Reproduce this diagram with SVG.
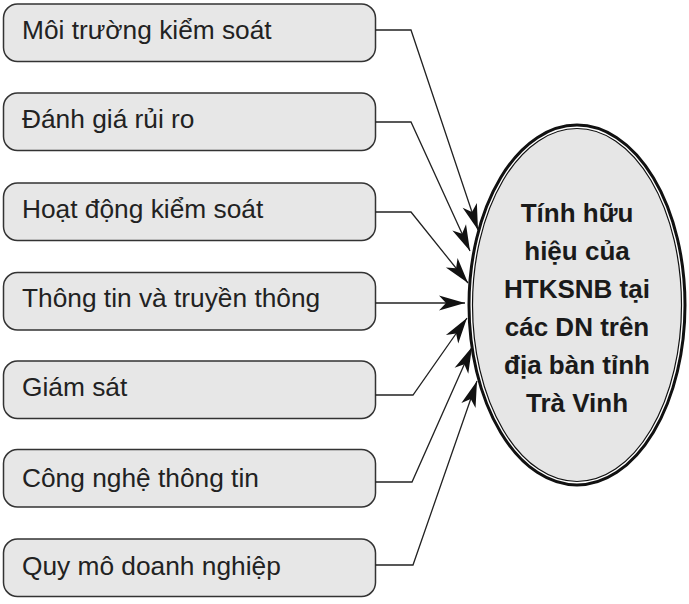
<svg xmlns="http://www.w3.org/2000/svg" width="689" height="604" viewBox="0 0 689 604">
<style>
.box{fill:#e7e7e7;stroke:#333;stroke-width:1.5}
.lbl{font-family:"Liberation Sans",Arial,sans-serif;font-size:26.3px;fill:#222}
.el{font-family:"Liberation Sans",Arial,sans-serif;font-size:26px;font-weight:bold;fill:#1a1a1a;text-anchor:middle}
.con{fill:none;stroke:#222;stroke-width:1.3;marker-end:url(#ah)}
</style>
<defs>
<marker id="ah" viewBox="-28 -9 29 18" refX="0" refY="0" markerWidth="29" markerHeight="18" markerUnits="userSpaceOnUse" orient="auto">
<path d="M0,0 L-26,-7.5 L-19,0 L-26,7.5 Z" fill="#111"/>
</marker>
</defs>
<rect width="689" height="604" fill="#fff"/>
<g id="n1"><rect class="box" x="3.5" y="4" width="372" height="57.5" rx="14"/><text class="lbl" x="22" y="38.5">Môi trường kiểm soát</text></g>
<g id="n2"><rect class="box" x="3.5" y="93" width="372" height="57.5" rx="14"/><text class="lbl" x="22" y="127.5">Đánh giá rủi ro</text></g>
<g id="n3"><rect class="box" x="3.5" y="183" width="372" height="57.5" rx="14"/><text class="lbl" x="22" y="217.5">Hoạt động kiểm soát</text></g>
<g id="n4"><rect class="box" x="3.5" y="272.5" width="372" height="57.5" rx="14"/><text class="lbl" x="22" y="307">Thông tin và truyền thông</text></g>
<g id="n5"><rect class="box" x="3.5" y="361" width="372" height="57.5" rx="14"/><text class="lbl" x="22" y="395.5">Giám sát</text></g>
<g id="n6"><rect class="box" x="3.5" y="449.5" width="372" height="57.5" rx="14"/><text class="lbl" x="22" y="486.5">Công nghệ thông tin</text></g>
<g id="n7"><rect class="box" x="3.5" y="539" width="372" height="57.5" rx="14"/><text class="lbl" x="22" y="575">Quy mô doanh nghiệp</text></g>
<g id="center">
<ellipse cx="577" cy="305" rx="108" ry="180" fill="#fff" stroke="#111" stroke-width="3"/>
<ellipse cx="577" cy="305" rx="104.5" ry="176.5" fill="#e6e6e6" stroke="#111" stroke-width="1.2"/>
<text class="el" x="577" y="222">Tính hữu</text>
<text class="el" x="577" y="260">hiệu của</text>
<text class="el" x="577" y="298">HTKSNB tại</text>
<text class="el" x="577" y="336">các DN trên</text>
<text class="el" x="577" y="374">địa bàn tỉnh</text>
<text class="el" x="577" y="412">Trà Vinh</text>
</g>
<g id="connectors">
<path class="con" d="M375.5,30 H411 L478,230"/>
<path class="con" d="M375.5,122 H411 L470,251"/>
<path class="con" d="M375.5,212 H411 L468,283"/>
<path class="con" d="M375.5,303 H465"/>
<path class="con" d="M375.5,395 H413 L467,318"/>
<path class="con" d="M375.5,482 H412 L472,347"/>
<path class="con" d="M375.5,565 H413 L477,381"/>
</g>
</svg>
